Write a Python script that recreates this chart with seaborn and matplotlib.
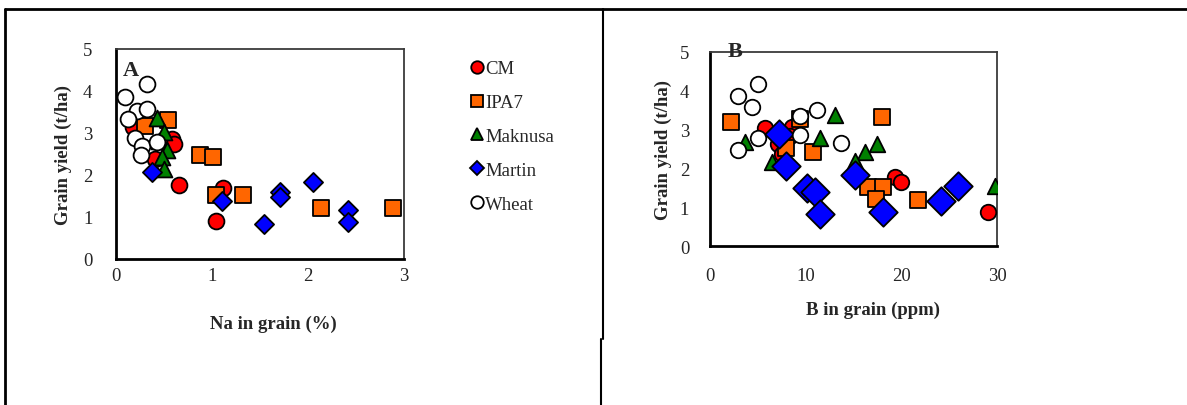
import matplotlib
matplotlib.use("Agg")
import matplotlib.pyplot as plt
import seaborn as sns
from matplotlib.lines import Line2D

# ---------------- data ----------------
series = ["CM", "IPA7", "Maknusa", "Martin", "Wheat"]

# Panel A: Na in grain (%) vs grain yield (t/ha)
na_cm = [0.18, 0.58, 0.60, 0.41, 0.66, 1.11, 1.04]
ya_cm = [3.14, 2.86, 2.74, 2.38, 1.76, 1.68, 0.91]
na_ipa7 = [0.30, 0.54, 0.87, 1.01, 1.04, 1.32, 2.14, 2.89]
ya_ipa7 = [3.17, 3.30, 2.48, 2.42, 1.51, 1.52, 1.20, 1.21]
na_mak = [0.43, 0.45, 0.50, 0.53, 0.48, 0.50]
ya_mak = [3.35, 2.80, 3.02, 2.58, 2.42, 2.14]
na_martin = [0.38, 1.10, 1.71, 1.71, 1.54, 2.05, 2.42, 2.42]
ya_martin = [2.06, 1.38, 1.58, 1.47, 0.83, 1.84, 1.17, 0.88]
na_wheat = [0.09, 0.32, 0.22, 0.32, 0.13, 0.20, 0.27, 0.26, 0.43]
ya_wheat = [3.85, 4.17, 3.53, 3.57, 3.33, 2.87, 2.68, 2.47, 2.79]

# Panel B: B in grain (ppm) vs grain yield (t/ha)
b_cm = [5.74, 8.53, 7.13, 7.48, 8.35, 19.31, 20.00, 29.05]
yb_cm = [3.03, 3.06, 2.63, 2.37, 2.84, 1.77, 1.66, 0.89]
b_ipa7 = [2.16, 7.93, 9.39, 10.80, 18.03, 16.53, 18.09, 17.33, 21.75]
yb_ipa7 = [3.20, 2.52, 3.27, 2.42, 3.33, 1.52, 1.52, 1.22, 1.19]
b_mak = [3.65, 6.44, 13.05, 11.55, 16.18, 17.46, 15.14, 29.75]
yb_mak = [2.67, 2.16, 3.38, 2.78, 2.43, 2.63, 2.20, 1.56]
b_martin = [7.24, 7.93, 10.09, 10.96, 11.48, 15.14, 18.09, 24.18, 25.92]
yb_martin = [2.89, 2.07, 1.49, 1.40, 0.83, 1.82, 0.87, 1.17, 1.56]
b_wheat = [2.95, 5.04, 4.35, 2.95, 5.04, 9.39, 9.39, 11.14, 13.67]
yb_wheat = [3.86, 4.17, 3.57, 2.48, 2.78, 2.86, 3.35, 3.49, 2.66]

x_ticks_a = [0, 1, 2, 3]
x_ticks_b = [0, 10, 20, 30]
y_ticks = [0, 1, 2, 3, 4, 5]

colors = {"CM": "#ff0000", "IPA7": "#ff6600", "Maknusa": "#008000",
          "Martin": "#0000ff", "Wheat": "#ffffff"}
markers = {"CM": "o", "IPA7": "s", "Maknusa": "^", "Martin": "D", "Wheat": "o"}

sns.set_style("white")
plt.rcParams["font.family"] = ["Liberation Serif", "DejaVu Serif"]

fig = plt.figure(figsize=(11.87, 4.06), dpi=100)

axA = fig.add_axes([116 / 1187, 1 - 259.7 / 406, 288 / 1187, 209.7 / 406])
axB = fig.add_axes([710 / 1187, 1 - 247.3 / 406, 287 / 1187, 194.6 / 406])

dataA = {"CM": (na_cm, ya_cm), "IPA7": (na_ipa7, ya_ipa7), "Maknusa": (na_mak, ya_mak),
         "Martin": (na_martin, ya_martin), "Wheat": (na_wheat, ya_wheat)}
dataB = {"CM": (b_cm, yb_cm), "IPA7": (b_ipa7, yb_ipa7), "Maknusa": (b_mak, yb_mak),
         "Martin": (b_martin, yb_martin), "Wheat": (b_wheat, yb_wheat)}

sizesA = {"CM": 130, "IPA7": 135, "Maknusa": 130, "Martin": 95, "Wheat": 130}
sizesB = {"CM": 125, "IPA7": 140, "Maknusa": 125, "Martin": 210, "Wheat": 125}

for ax, data, sizes in [(axA, dataA, sizesA), (axB, dataB, sizesB)]:
    for s in series:
        xs, ys = data[s]
        sns.scatterplot(x=xs, y=ys, ax=ax, marker=markers[s], s=sizes[s],
                        color=colors[s], edgecolor="black", linewidth=1.3,
                        legend=False, zorder=3)

def style(ax, xlim, xticks, xlabel, xpad, ypad):
    ax.set_xlim(xlim)
    ax.set_ylim(0, 5)
    ax.set_xticks(xticks)
    ax.set_yticks(y_ticks)
    ax.tick_params(axis="both", direction="out", length=5, width=1.5,
                   labelsize=13.5, color="black")
    ax.tick_params(axis="x", pad=xpad)
    ax.tick_params(axis="y", pad=ypad)
    for sp in ["left", "bottom"]:
        ax.spines[sp].set_color("black")
        ax.spines[sp].set_linewidth(2.0)
    for sp in ["top", "right"]:
        ax.spines[sp].set_color("#3a3a3a")
        ax.spines[sp].set_linewidth(1.3)
    ax.set_xlabel(xlabel, fontsize=13.5, fontweight="bold")
    ax.set_ylabel("Grain yield (t/ha)", fontsize=13.5, fontweight="bold")

style(axA, (0, 3), x_ticks_a, "Na in grain (%)", 1.0, 12)
style(axB, (0, 30), x_ticks_b, "B in grain (ppm)", 10, 10)

axA.yaxis.set_label_coords(-0.152, 0.5)
axA.xaxis.set_label_coords(0.545, -0.268)
axB.yaxis.set_label_coords(-0.132, 0.5)
axB.xaxis.set_label_coords(0.568, -0.281)

axA.text(0.052, 0.90, "A", transform=axA.transAxes, fontsize=16,
         fontweight="bold", ha="center", va="center", zorder=5)
axB.text(0.087, 1.004, "B", transform=axB.transAxes, fontsize=16,
         fontweight="bold", ha="center", va="center", zorder=5)

# legend
handles = [Line2D([], [], linestyle="none", marker=markers[s], markersize=9 if s != "Martin" else 7.5,
                  markerfacecolor=colors[s], markeredgecolor="black", markeredgewidth=1.3)
           for s in series]
fig.legend(handles, series, loc="upper left", bbox_to_anchor=(458 / 1187, 1 - 48 / 406),
           frameon=False, fontsize=13.5, handlelength=0.6, handletextpad=0.15,
           labelspacing=0.89, borderpad=0.2)

# page / table frame lines
lw = 2.0
fig.add_artist(Line2D([5 / 1187, 1], [1 - 10 / 406, 1 - 10 / 406], color="black", lw=lw,
                      transform=fig.transFigure))
fig.add_artist(Line2D([5 / 1187, 5 / 1187], [0, 1 - 10 / 406], color="black", lw=lw,
                      transform=fig.transFigure))
fig.add_artist(Line2D([603 / 1187, 603 / 1187], [1 - 340 / 406, 1 - 10 / 406], color="black",
                      lw=1.5, transform=fig.transFigure))
fig.add_artist(Line2D([601 / 1187, 601 / 1187], [0, 1 - 340 / 406], color="black",
                      lw=1.5, transform=fig.transFigure))

fig.savefig("out.png", dpi=100)
